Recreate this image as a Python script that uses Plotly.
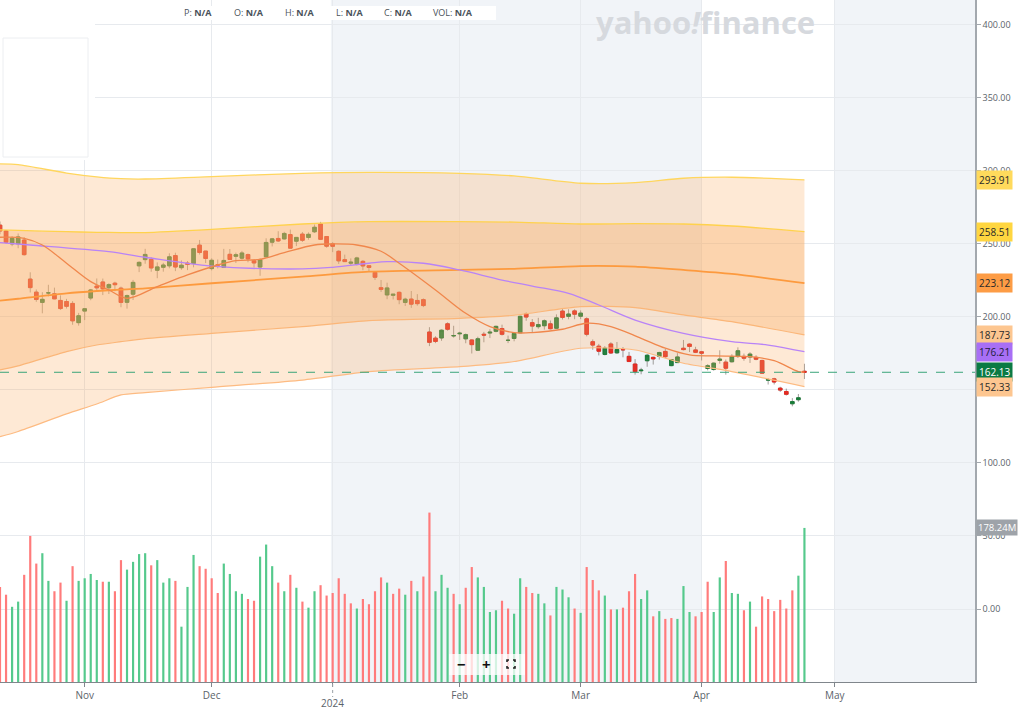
import pandas as pd
import plotly.graph_objects as go

# trading calendar (weekdays minus market holidays), incl. the empty future stretch on the right
holidays = ["2023-11-23", "2023-12-25", "2024-01-01", "2024-01-15",
            "2024-02-19", "2024-03-29", "2024-05-27"]
axis_days = [d.strftime("%Y-%m-%d") for d in pd.bdate_range("2023-10-12", "2024-06-05")
             if d.strftime("%Y-%m-%d") not in holidays]

open_ = [262.92, 258.90, 250.05, 250.10, 252.70, 225.95, 217.01, 210.00, 216.50, 215.88, 211.32, 210.60, 209.28, 196.12,
         204.04, 212.97, 221.15, 223.98, 219.98, 223.15, 219.75, 210.03, 215.60, 235.03, 239.29, 239.49, 232.00, 234.04,
         235.04, 242.04, 233.75, 236.89, 236.68, 249.21, 245.14,
         233.14, 235.75, 233.87, 242.92, 241.55, 240.27, 242.74, 238.55, 234.19, 241.22, 251.21, 253.78, 253.48, 256.41,
         251.90, 256.76, 254.49, 258.35, 263.66, 255.10,
         250.08, 244.98, 239.25, 236.86, 236.14, 238.11, 235.10, 230.57, 220.08, 215.10, 214.86, 216.88, 209.99, 212.26,
         211.30, 211.88, 189.70, 185.50, 185.63, 195.33, 187.00,
         188.50, 185.04, 184.26, 177.21, 188.18, 189.00, 190.18, 192.11, 183.99, 185.30, 189.16, 202.06, 196.13, 193.36,
         194.00, 195.31, 192.29, 204.04, 200.42, 204.18,
         200.52, 198.73, 183.05, 179.99, 174.35, 181.50, 175.45, 177.77, 173.05, 167.77, 163.16, 170.02, 172.36, 173.00,
         176.39, 166.69, 168.76, 178.58, 181.41, 177.45,
         176.17, 164.75, 164.02, 170.29, 169.08, 169.34, 172.91, 173.04, 172.55, 172.34, 170.24, 156.74, 157.64, 151.25,
         148.97, 140.56, 143.33, 162.84]
high = [265.41, 259.60, 255.40, 257.18, 254.63, 230.61, 218.86, 216.98, 222.05, 220.10, 214.80, 212.41, 210.88, 202.80,
        205.99, 219.20, 226.37, 226.32, 223.12, 224.15, 220.80, 215.38, 225.40, 238.14, 246.70, 240.88, 237.39, 237.10,
        243.62, 244.01, 238.75, 238.33, 247.00, 252.75, 245.22,
        240.19, 239.37, 246.66, 246.57, 244.08, 245.27, 243.44, 238.99, 240.30, 253.88, 254.13, 258.74, 258.34, 259.84,
        254.80, 258.22, 257.97, 263.34, 265.13, 255.19,
        251.25, 245.68, 242.70, 240.12, 241.25, 238.96, 235.50, 230.93, 225.34, 223.49, 215.67, 217.45, 213.19, 217.80,
        215.65, 212.73, 193.00, 186.78, 191.48, 196.36, 193.97,
        189.88, 188.69, 184.68, 186.49, 189.79, 191.62, 194.12, 194.73, 187.26, 188.89, 200.88, 203.17, 198.60, 199.44,
        198.32, 197.57, 201.78, 205.60, 205.30, 205.28,
        204.52, 199.75, 184.59, 181.58, 180.04, 182.73, 182.87, 179.43, 176.05, 171.17, 165.18, 174.72, 172.82, 176.25,
        178.18, 171.20, 175.24, 184.25, 181.91, 179.57,
        176.75, 167.69, 168.82, 177.19, 170.86, 174.50, 179.22, 174.93, 175.88, 173.81, 170.69, 158.19, 158.33, 152.20,
        150.94, 144.44, 147.25, 167.97]
low = [256.63, 250.22, 248.48, 247.08, 242.08, 216.78, 210.42, 202.51, 214.11, 212.20, 204.88, 205.77, 194.67, 194.07,
       197.85, 211.45, 218.40, 215.00, 215.72, 217.64, 206.68, 205.69, 211.61, 230.72, 236.45, 230.96, 226.54, 231.02,
       233.34, 231.40, 232.33, 232.10, 234.01, 242.76, 236.91,
       231.90, 233.29, 233.70, 239.17, 236.98, 239.27, 237.45, 233.87, 228.20, 240.79, 248.30, 251.36, 253.01, 247.00,
       248.55, 251.37, 252.91, 257.52, 252.71, 247.43,
       244.41, 236.32, 237.73, 234.90, 235.30, 232.04, 231.29, 225.37, 217.15, 212.18, 212.01, 208.74, 207.56, 206.27,
       207.75, 206.77, 180.06, 182.10, 183.67, 190.61, 185.85,
       184.28, 182.00, 175.01, 177.11, 182.68, 185.58, 189.48, 187.28, 182.11, 183.35, 188.86, 197.40, 189.13, 191.95,
       191.36, 191.50, 192.00, 198.26, 198.44, 198.45,
       198.50, 186.72, 177.57, 173.70, 173.70, 174.70, 174.80, 172.41, 169.15, 160.51, 160.76, 165.90, 167.42, 170.82,
       171.80, 166.30, 168.73, 177.11, 176.00, 175.30,
       170.21, 163.43, 163.28, 168.01, 160.51, 168.79, 171.92, 170.01, 168.51, 170.36, 161.38, 153.75, 153.78, 148.70,
       146.22, 138.80, 142.00, 157.51]
close = [258.87, 251.12, 253.92, 254.85, 242.68, 220.11, 211.99, 212.08, 216.52, 212.42, 205.76, 207.30, 197.36, 200.84,
         205.66, 218.51, 219.96, 219.27, 222.18, 222.11, 209.98, 214.65, 223.71, 237.41, 242.84, 233.59, 234.30, 235.60,
         241.20, 234.21, 235.45, 236.08, 246.72, 244.14, 240.08,
         238.83, 235.58, 238.72, 239.37, 242.64, 243.84, 239.74, 237.01, 239.29, 251.05, 253.50, 252.08, 257.22, 247.14,
         254.50, 252.54, 256.61, 261.44, 253.18, 248.48,
         248.42, 238.45, 237.93, 237.49, 240.45, 234.96, 233.94, 227.22, 218.89, 219.91, 215.55, 211.88, 212.19, 208.80,
         209.14, 207.83, 182.63, 183.25, 190.93, 191.59, 187.29,
         188.86, 187.91, 181.06, 185.10, 187.58, 189.56, 193.57, 188.13, 184.02, 188.71, 200.45, 199.95, 193.76, 194.77,
         197.41, 191.97, 199.40, 199.73, 202.04, 201.88,
         202.64, 188.14, 180.74, 176.54, 178.65, 175.34, 177.77, 177.54, 169.48, 162.50, 163.57, 173.80, 171.32, 175.66,
         172.82, 170.83, 172.63, 177.67, 179.83, 175.79,
         175.22, 166.63, 168.38, 171.11, 164.90, 172.98, 176.88, 171.76, 174.60, 171.05, 161.48, 157.11, 155.45, 149.93,
         147.05, 142.05, 144.68, 162.13]
# volume, millions
volume = [110, 101, 87, 93, 124, 169, 137, 149, 117, 105, 115, 94, 134, 117, 120, 125, 118, 116, 116, 105, 141, 130,
          139, 148, 149, 135, 141, 115, 120, 117, 64, 110, 147, 134, 131, 120, 103, 137, 125, 105, 102, 96, 94, 145,
          159, 134, 115, 105, 124, 109, 93, 86, 105, 112, 100, 103, 120, 102, 91, 85, 96, 90, 105, 121, 115, 102,
          108, 101, 117, 105, 122, 196, 105, 124, 109, 102, 90, 109, 133, 121, 110, 81, 83, 94, 85, 79, 120, 110,
          103, 102, 91, 77, 110, 107, 98, 85, 80, 133, 118, 106, 100, 84, 84, 86, 105, 125, 96, 106, 76, 82, 73, 74,
          73, 111, 81, 76, 81, 116, 81, 121, 140, 103, 102, 83, 93, 64, 99, 96, 82, 95, 85, 106, 123, 178.24]
prev_close_start = 262.99

dates = axis_days[:len(close)]

# envelope bands, read at these trading-day positions
band_idx = [0, 3, 11, 16, 20, 24, 35, 50, 61, 76, 85, 96, 105, 113, 121, 133]
upper2 = [304.8, 304.3, 298.6, 296.0, 294.7, 294.5, 296.1, 298.4, 299.1, 298.4, 296.6, 291.6, 292.0, 295.0, 295.7, 293.91]
upper1 = [259.6, 259.3, 258.4, 258.0, 257.8, 257.8, 260.0, 263.7, 265.3, 265.3, 265.0, 263.7, 263.9, 263.7, 262.3, 258.51]
middle = [211.2, 212.5, 216.2, 217.8, 218.8, 219.6, 223.1, 227.6, 231.0, 232.2, 233.0, 234.9, 234.5, 232.2, 229.5, 223.12]
lower1 = [163.7, 166.5, 176.3, 180.8, 183.1, 185.2, 188.8, 193.4, 197.5, 199.1, 201.2, 207.1, 206.4, 201.4, 196.8, 187.73]
lower2 = [118.0, 121.6, 133.6, 140.4, 146.6, 148.2, 151.8, 156.8, 162.6, 166.0, 169.5, 178.6, 177.4, 168.3, 162.6, 152.33]

slow_idx = [0, 5, 18, 24, 35, 50, 55, 61, 64, 70, 76, 83, 88, 94, 99, 105, 113, 121, 127, 133]
slow_ma = [250.9, 249.3, 244.7, 240.9, 234.9, 232.9, 234.0, 236.8, 237.9, 236.8, 232.2, 225.3, 221.2, 216.2, 208.2,
           197.9, 188.8, 183.1, 180.8, 176.21]

fast_idx = [0, 4, 7, 11, 15, 18, 21, 26, 31, 36, 39, 43, 47, 52, 55, 59, 63, 66, 72, 77, 81, 85, 88, 93, 97,
            101, 106, 110, 114, 118, 124, 128, 132, 133]
fast_ma = [254.6, 253.9, 249.3, 236.8, 224.2, 218.5, 212.8, 220.8, 228.8, 235.6, 238.6, 239.5, 244.1, 249.3, 250.0,
           249.3, 245.0, 236.8, 218.5, 202.5, 193.4, 189.3, 189.3, 191.6, 195.7, 193.4, 185.4, 178.6, 174.0, 173.3,
           172.8, 170.1, 162.6, 162.3]

month_ticks = ["2023-11-01", "2023-12-01", "2024-01-02", "2024-02-01", "2024-03-01", "2024-04-01", "2024-05-01"]
month_text = ["Nov", "Dec", "", "Feb", "Mar", "Apr", "May"]
year_tick, year_text = "2024-01-02", "2024"
price_ticks = [0, 50, 100, 150, 200, 250, 300, 350, 400]
# the 150 level sits under the lower-band price tag, so its label is left blank
price_text = ["0.00", "50.00", "100.00", "", "200.00", "250.00", "300.00", "350.00", "400.00"]

W, H = 975, 682  # plot area in px


def px(x, y):
    return x / W, 1 - y / H


fig = go.Figure()

vol_colors = []
for i, c in enumerate(close):
    prev = prev_close_start if i == 0 else close[i - 1]
    vol_colors.append("#55c98c" if c >= prev else "#ff7b7b")
fig.add_trace(go.Bar(x=dates, y=volume, yaxis="y2", marker_color=vol_colors, marker_line_width=0,
                     width=0.36, hoverinfo="skip"))

bx = [dates[i] for i in band_idx]
light = "rgba(250,172,100,0.27)"
dark = "rgba(250,172,100,0.52)"
sm = 0.7
fig.add_trace(go.Scatter(x=bx, y=lower2, mode="lines", line=dict(color="#fdbb82", width=1.2, shape="spline", smoothing=sm)))
fig.add_trace(go.Scatter(x=bx, y=lower1, mode="lines", fill="tonexty", fillcolor=light,
                         line=dict(color="#fbb678", width=1.2, shape="spline", smoothing=sm)))
fig.add_trace(go.Scatter(x=bx, y=middle, mode="lines", fill="tonexty", fillcolor=dark,
                         line=dict(color="#fd9a3e", width=1.8, shape="spline", smoothing=sm)))
fig.add_trace(go.Scatter(x=bx, y=upper1, mode="lines", fill="tonexty", fillcolor=dark,
                         line=dict(color="#ffd24d", width=1.3, shape="spline", smoothing=sm)))
fig.add_trace(go.Scatter(x=bx, y=upper2, mode="lines", fill="tonexty", fillcolor=light,
                         line=dict(color="#ffd65e", width=1.3, shape="spline", smoothing=sm)))

fig.add_trace(go.Scatter(x=[dates[i] for i in slow_idx], y=slow_ma, mode="lines",
                         line=dict(color="#b883f7", width=1.3, shape="spline")))
fig.add_trace(go.Scatter(x=[dates[i] for i in fast_idx], y=fast_ma, mode="lines",
                         line=dict(color="#f0874c", width=1.3, shape="spline")))

# wicks
wick = "rgba(100,95,90,0.6)"
fig.add_trace(go.Candlestick(x=dates, open=open_, high=high, low=low, close=close,
                             increasing=dict(line=dict(color=wick, width=1), fillcolor=wick),
                             decreasing=dict(line=dict(color=wick, width=1), fillcolor=wick),
                             hoverinfo="skip"))
# bodies
body_hi = [max(o, c) for o, c in zip(open_, close)]
body_lo = [min(o, c) for o, c in zip(open_, close)]
up_c = "rgba(22,125,55,0.88)"
dn_c = "rgba(232,40,32,0.92)"
fig.add_trace(go.Candlestick(x=dates, open=open_, high=body_hi, low=body_lo, close=close,
                             increasing=dict(line=dict(color=up_c, width=1), fillcolor=up_c),
                             decreasing=dict(line=dict(color=dn_c, width=1), fillcolor=dn_c)))

shapes = []
i_jan = axis_days.index("2024-01-02")
i_apr = axis_days.index("2024-04-01")
i_may = axis_days.index("2024-05-01")
for a, b in [(i_jan - 0.3, i_apr), (i_may, len(axis_days) + 5)]:
    shapes.append(dict(type="rect", xref="x", yref="paper", x0=a, x1=b, y0=0, y1=1,
                       fillcolor="#f1f4f8", line_width=0, layer="below"))
shapes.append(dict(type="line", xref="paper", yref="y", x0=0, x1=1, y0=close[-1], y1=close[-1],
                   line=dict(color="#3aa57a", width=1, dash="dash"), layer="above"))
# dotted year marker under the axis
shapes.append(dict(type="line", xref="x", yref="paper", x0=year_tick, x1=year_tick,
                   y0=1 - 684 / H, y1=1 - 697 / H, line=dict(color="#9aa0a6", width=1, dash="dot")))

# top-left panel and ohlc readout box
x0, y0 = px(0, 160)
x1, y1 = px(95, 0)
shapes.append(dict(type="rect", xref="paper", yref="paper", x0=x0, x1=x1, y0=y0, y1=y1,
                   fillcolor="white", line_width=0, layer="above"))
x0, y0 = px(3, 157)
x1, y1 = px(88, 38)
shapes.append(dict(type="rect", xref="paper", yref="paper", x0=x0, x1=x1, y0=y0, y1=y1,
                   fillcolor="white", line=dict(color="#eceef1", width=1), layer="above"))
x0, y0 = px(178, 20)
x1, y1 = px(496, 6)
shapes.append(dict(type="rect", xref="paper", yref="paper", x0=x0, x1=x1, y0=y0, y1=y1,
                   fillcolor="white", line_width=0, layer="above"))

# zoom control box + fullscreen icon
x0, y0 = px(449, 675)
x1, y1 = px(525, 654)
shapes.append(dict(type="rect", xref="paper", yref="paper", x0=x0, x1=x1, y0=y0, y1=y1,
                   fillcolor="rgba(255,255,255,0.75)", line_width=0, layer="above"))
corners = [[(507, 662), (507, 660), (509, 660)], [(513, 660), (515, 660), (515, 662)],
           [(515, 666), (515, 668), (513, 668)], [(509, 668), (507, 668), (507, 666)]]
for c in corners:
    pts = [px(*p) for p in c]
    path = "M %f,%f L %f,%f L %f,%f" % (pts[0] + pts[1] + pts[2])
    shapes.append(dict(type="path", xref="paper", yref="paper", path=path,
                       line=dict(color="#222", width=1.6), layer="above"))

ann = []
legend = [("P", 198), ("O", 249), ("H", 299), ("L", 349), ("C", 398), ("VOL", 453)]
for lab, cx in legend:
    ax_, ay_ = px(cx, 13)
    ann.append(dict(xref="paper", yref="paper", x=ax_, y=ay_, xanchor="center", yanchor="middle",
                    showarrow=False, text="%s: <b>N/A</b>" % lab, font=dict(size=9, color="#4a525a")))

ax_, ay_ = px(705, 22)
ann.append(dict(xref="paper", yref="paper", x=ax_, y=ay_, xanchor="center", yanchor="middle", showarrow=False,
                text="<b>yahoo<i>!</i>finance</b>", font=dict(size=31, color="#d6d9de", family="Open Sans")))

for sym, cx in [("−", 461), ("+", 486)]:
    ax_, ay_ = px(cx, 664)
    ann.append(dict(xref="paper", yref="paper", x=ax_, y=ay_, xanchor="center", yanchor="middle",
                    showarrow=False, text="<b>%s</b>" % sym, font=dict(size=15, color="#111")))

ann.append(dict(xref="x", yref="paper", x=year_tick, y=1 - 703 / H, xanchor="center", yanchor="middle",
                showarrow=False, text=year_text, font=dict(size=10, color="#5b636a")))

labels = [(upper2[-1], "#ffda5c", "#2a2a2a"), (upper1[-1], "#ffd640", "#2a2a2a"),
          (middle[-1], "#fd9c45", "#2a2a2a"), (lower1[-1], "#fdc690", "#2a2a2a"),
          (slow_ma[-1], "#a86ff5", "#1d1d3a"), (close[-1], "#0b7a44", "white"),
          (lower2[-1], "#fdc690", "#2a2a2a")]
for v, bg, fc in labels:
    ann.append(dict(xref="paper", yref="y", x=1, y=v, xanchor="left", yanchor="middle", xshift=1,
                    showarrow=False, text="%.2f" % v, bgcolor=bg, borderpad=2, font=dict(size=10, color=fc)))
ann.append(dict(xref="paper", yref="y2", x=1, y=volume[-1], xanchor="left", yanchor="middle", xshift=1,
                showarrow=False, text="%.2fM" % volume[-1], bgcolor="#9ea3a9", borderpad=1,
                font=dict(size=9.5, color="white")))

fig.update_layout(
    width=1024, height=711,
    margin=dict(l=0, r=49, t=0, b=29),
    paper_bgcolor="white", plot_bgcolor="white",
    showlegend=False,
    boxgap=0.15,
    font=dict(family="Open Sans", color="#5b636a"),
    shapes=shapes, annotations=ann,
    xaxis=dict(type="category", categoryorder="array", categoryarray=axis_days,
               range=[0, 161.2], tickvals=month_ticks, ticktext=month_text, automargin=False,
               showgrid=True, gridcolor="#e7eaee", showline=True, linecolor="#80868c",
               ticks="outside", ticklen=4, tickcolor="#80868c", tickfont=dict(size=10, color="#5b636a"),
               rangeslider=dict(visible=False), fixedrange=True),
    yaxis=dict(side="right", range=[-50, 417.1], tickvals=price_ticks, ticktext=price_text, automargin=False,
               showgrid=True, gridcolor="#e7eaee", zeroline=False, showline=True, linecolor="#a3a8ae",
               linewidth=1.5, ticks="outside", ticklen=4, tickcolor="#a3a8ae",
               tickfont=dict(size=9, color="#5b636a")),
    yaxis2=dict(overlaying="y", range=[0, 789], visible=False),
)

fig.write_html("out.html", config={"displayModeBar": False},
               post_script="document.body.style.margin='0px';")
